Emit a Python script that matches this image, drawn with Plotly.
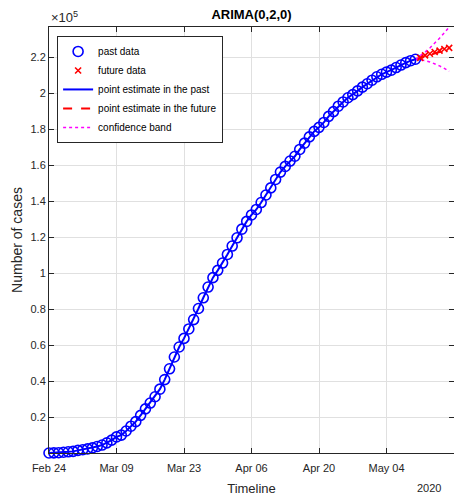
import pandas as pd
import plotly.graph_objects as go

# ---- data ----
past_start = "2020-02-24"
past_cases = [229, 322, 400, 650, 888, 1128,
              1694, 2036, 2502, 3089, 3858, 4636, 5883, 7375, 9172, 10149,
              12462, 15113, 17660, 21157, 24747, 27980, 31506, 35713, 41035, 47021,
              53578, 59138, 63927, 69176, 74386, 80539, 86498, 92472, 97689, 101739,
              105792,
              110574, 115242, 119827, 124632, 128948, 132547, 135586, 139422, 143626, 147577,
              152271, 156363, 159516, 162488, 165155, 168941, 172434, 175925, 178972, 181228,
              183957, 187327, 189973, 192994, 195351, 197675, 199414, 201505, 203591, 205463,
              207428, 209328, 210717, 211938, 213013, 214457, 215858, 217185, 218268, 219070]

future_start = "2020-05-11"
future_cases = [219814, 221216, 222104, 223096, 223885, 224760, 225435]

fc_start = "2020-05-10"
forecast = [219070, 219872, 220674, 221476, 222278, 223080, 223882, 224684]
band_upper = [219070, 220912, 222997, 225363, 227968, 230784, 233791, 236974]
band_lower = [219070, 218832, 218351, 217589, 216588, 215376, 213973, 212394]

x_tick_dates = ["2020-02-24", "2020-03-09", "2020-03-23", "2020-04-06", "2020-04-20", "2020-05-04"]
x_tick_labels = ["Feb 24", "Mar 09", "Mar 23", "Apr 06", "Apr 20", "May 04"]
y_tick_vals = [20000, 40000, 60000, 80000, 100000, 120000, 140000, 160000, 180000, 200000, 220000]
y_tick_labels = ["0.2", "0.4", "0.6", "0.8", "1", "1.2", "1.4", "1.6", "1.8", "2", "2.2"]

past_dates = pd.date_range(past_start, periods=len(past_cases), freq="D")
future_dates = pd.date_range(future_start, periods=len(future_cases), freq="D")
fc_dates = pd.date_range(fc_start, periods=len(forecast), freq="D")

FONT = "Liberation Sans, Arial, Helvetica, sans-serif"
TXT = "#262626"
GRID = "#e0e0e0"

fig = go.Figure()

fig.add_trace(go.Scatter(
    x=past_dates, y=past_cases, mode="lines", name="point estimate in the past",
    line=dict(color="#0000ff", width=2), legendrank=3))
fig.add_trace(go.Scatter(
    x=fc_dates, y=forecast, mode="lines", name="point estimate in the future",
    line=dict(color="#ff0000", width=2, dash="dash"), legendrank=4))
fig.add_trace(go.Scatter(
    x=fc_dates, y=band_upper, mode="lines", name="confidence band",
    line=dict(color="#ff00ff", width=1.5, dash="dot"), legendrank=5))
fig.add_trace(go.Scatter(
    x=fc_dates, y=band_lower, mode="lines", name="confidence band", showlegend=False,
    line=dict(color="#ff00ff", width=1.5, dash="dot")))
fig.add_trace(go.Scatter(
    x=past_dates, y=past_cases, mode="markers", name="past data", cliponaxis=False,
    marker=dict(symbol="circle-open", size=10, color="#0000ff", line=dict(width=1.6, color="#0000ff")),
    legendrank=1))
fig.add_trace(go.Scatter(
    x=future_dates, y=future_cases, mode="markers", name="future data", cliponaxis=False,
    marker=dict(symbol="x-thin-open", size=6, color="#ff0000", line=dict(width=1.6, color="#ff0000")),
    legendrank=2))

fig.update_layout(
    width=454, height=498,
    margin=dict(l=49, r=0, t=27, b=45, autoexpand=False),
    paper_bgcolor="white", plot_bgcolor="white",
    font=dict(family=FONT, color=TXT, size=11),
    title=dict(text="<b>ARIMA(0,2,0)</b>", x=0.5, xref="paper", xanchor="center",
               y=1 - 14 / 498, yref="container", yanchor="middle",
               font=dict(size=13, color="#000000", family=FONT)),
    showlegend=True,
    legend=dict(x=0.02, y=0.979, xanchor="left", yanchor="top",
                bgcolor="white", bordercolor=TXT, borderwidth=1,
                font=dict(size=10, color="#000000", family=FONT),
                tracegroupgap=0, itemwidth=30),
)

fig.update_xaxes(
    type="date", range=["2020-02-24", "2020-05-18"],
    tickmode="array", tickvals=x_tick_dates, ticktext=x_tick_labels,
    showgrid=True, gridcolor=GRID, gridwidth=1,
    showline=True, linecolor=TXT, linewidth=1, mirror="ticks",
    ticks="inside", ticklen=5, tickcolor=TXT, tickwidth=1,
    tickfont=dict(size=11, color=TXT), zeroline=False, ticklabelstandoff=5,
    automargin=False,
    title=dict(text="Timeline", font=dict(size=13, color=TXT), standoff=10),
)
fig.update_yaxes(
    range=[229, 237000],
    tickmode="array", tickvals=y_tick_vals, ticktext=y_tick_labels,
    showgrid=True, gridcolor=GRID, gridwidth=1,
    showline=True, linecolor=TXT, linewidth=1, mirror="ticks",
    ticks="inside", ticklen=5, tickcolor=TXT, tickwidth=1,
    tickfont=dict(size=11, color=TXT), zeroline=False, automargin=False,
    title=dict(text="Number of cases", font=dict(size=14, color=TXT), standoff=4),
)

fig.add_annotation(text="×10<sup>5</sup>", xref="paper", yref="paper", x=0, y=1.0,
                   xanchor="left", yanchor="bottom", showarrow=False,
                   font=dict(size=13, color=TXT))
fig.add_annotation(text="2020", xref="paper", yref="paper", x=0.973, y=-0.082,
                   xanchor="right", yanchor="middle", showarrow=False,
                   font=dict(size=11, color=TXT))

fig.write_html("out.html")
